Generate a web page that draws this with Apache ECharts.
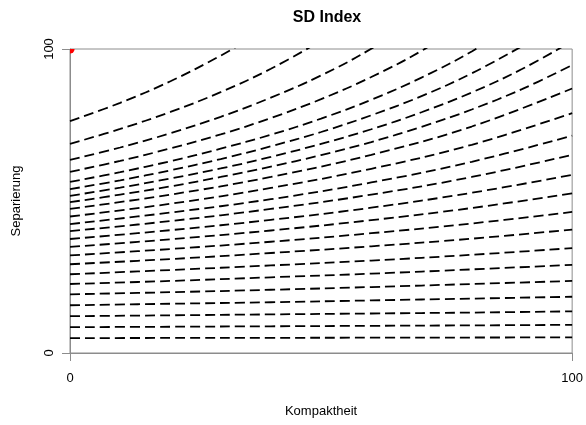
<!DOCTYPE html>
<html>
<head>
<meta charset="utf-8">
<title>SD Index</title>
<script src="https://cdn.jsdelivr.net/npm/echarts@6/dist/echarts.min.js"></script>
<style>
  html, body { margin: 0; padding: 0; background: #fff; }
  #chart { width: 586px; height: 425px; }
</style>
</head>
<body>
<div id="chart"></div>
<script>
// Axis ticks
const axisTicks = [0, 100];

// Sample positions along Kompaktheit
const xFine = [0, 10, 20, 30, 40, 50, 60, 70, 80, 90, 100];
const xCoarse = [0, 20, 40, 60, 80, 100];
const xTop1 = [0, 10, 20, 30, 35];

// Contour lines of the SD index (Separierung values at each sample position)
const level01 = [76.3, 82.3, 89.4, 97.8, 102.6];
const level02 = [68.8, 73.7, 79.3, 85.8, 93.5, 102.7];
const level03 = [63.5, 67.6, 72.3, 77.7, 84.0, 91.3, 100.1, 110.8];
const level04 = [59.6, 63.2, 67.3, 71.9, 77.3, 83.5, 90.8, 99.4, 109.9];
const level05 = [56.3, 59.5, 63.1, 67.2, 71.8, 77.1, 83.3, 90.6, 99.2, 109.6];
const level06 = [53.9, 56.8, 60.1, 63.8, 68.0, 72.7, 78.2, 84.5, 92.0, 100.9];
const level07 = [51.7, 54.4, 57.4, 60.7, 64.5, 68.8, 73.6, 79.2, 85.7, 93.4, 102.6];
const level08 = [49.6, 52.1, 54.8, 57.9, 61.3, 65.1, 69.4, 74.4, 80.1, 86.8, 94.7];
const level09 = [47.4, 52.1, 57.9, 65.2, 74.5, 87.0];
const level10 = [44.9, 49.1, 54.3, 60.6, 68.5, 78.9];
const level11 = [42.4, 46.2, 50.6, 56.1, 62.9, 71.5];
const level12 = [40.1, 43.4, 47.4, 52.1, 57.9, 65.2];
const level13 = [37.5, 40.4, 43.8, 47.8, 52.7, 58.6];
const level14 = [34.9, 37.4, 40.3, 43.7, 47.7, 52.5];
const level15 = [32.1, 34.2, 36.6, 39.4, 42.6, 46.4];
const level16 = [29.2, 30.9, 32.9, 35.1, 37.6, 40.6];
const level17 = [25.9, 27.3, 28.8, 30.4, 32.3, 34.5];
const level18 = [22.7, 23.7, 24.9, 26.1, 27.5, 29.0];
const level19 = [19.3, 20.0, 20.8, 21.7, 22.7, 23.7];
const level20 = [15.7, 16.2, 16.7, 17.3, 17.9, 18.5];
const level21 = [12.1, 12.4, 12.7, 13.0, 13.3, 13.7];
const level22 = [8.5, 8.64, 8.79, 8.94, 9.09, 9.26];
const level23 = [4.9, 4.95, 4.99, 5.04, 5.09, 5.14];

// Optimum marker
const optimum = [[0, 100]];

const contourLines = [
  [xTop1, level01], [xFine, level02], [xFine, level03], [xFine, level04],
  [xFine, level05], [xFine, level06], [xFine, level07], [xFine, level08],
  [xCoarse, level09], [xCoarse, level10], [xCoarse, level11], [xCoarse, level12],
  [xCoarse, level13], [xCoarse, level14], [xCoarse, level15], [xCoarse, level16],
  [xCoarse, level17], [xCoarse, level18], [xCoarse, level19], [xCoarse, level20],
  [xCoarse, level21], [xCoarse, level22], [xCoarse, level23]
];

const AXIS_GREY = '#8c8c8c';
const FONT = 'Liberation Sans, Arial, sans-serif';

const series = contourLines.map(([xs, ys]) => ({
  type: 'line',
  data: ys.map((y, i) => [xs[i], y]),
  showSymbol: false,
  smooth: 0.4,
  clip: true,
  silent: true,
  lineStyle: { color: '#000', width: 1.8, type: [10, 5] }
}));

series.push({
  type: 'custom',
  clip: true,
  silent: true,
  data: optimum,
  renderItem: (params, api) => {
    const p = api.coord([api.value(0), api.value(1)]);
    return { type: 'circle', shape: { cx: p[0], cy: p[1], r: 4.6 }, style: { fill: '#ff0000' } };
  }
});

const chart = echarts.init(document.getElementById('chart'), null, { renderer: 'canvas' });
chart.setOption({
  animation: false,
  title: {
    text: 'SD Index',
    left: 322,
    top: 5,
    textAlign: 'center',
    textStyle: { fontFamily: FONT, fontSize: 16, fontWeight: 'bold', color: '#000' }
  },
  grid: {
    left: 70, right: 12, top: 49, bottom: 72,
    show: true, borderColor: AXIS_GREY, borderWidth: 1, backgroundColor: 'transparent'
  },
  xAxis: {
    type: 'value', min: axisTicks[0], max: axisTicks[1], interval: axisTicks[1] - axisTicks[0],
    name: 'Kompaktheit', nameLocation: 'middle', nameGap: 52,
    nameTextStyle: { fontFamily: FONT, fontSize: 13, color: '#000' },
    axisLine: { show: true, lineStyle: { color: AXIS_GREY, width: 1 } },
    axisTick: { show: true, length: 8, lineStyle: { color: AXIS_GREY, width: 1 } },
    axisLabel: { margin: 19, fontFamily: FONT, fontSize: 13, color: '#000' },
    splitLine: { show: false }
  },
  yAxis: {
    type: 'value', min: axisTicks[0], max: axisTicks[1], interval: axisTicks[1] - axisTicks[0],
    name: 'Separierung', nameLocation: 'middle', nameGap: 47,
    nameTextStyle: { fontFamily: FONT, fontSize: 13, color: '#000' },
    axisLine: { show: true, lineStyle: { color: AXIS_GREY, width: 1 } },
    axisTick: { show: true, length: 8, lineStyle: { color: AXIS_GREY, width: 1 } },
    axisLabel: { rotate: 90, margin: 14, fontFamily: FONT, fontSize: 13, color: '#000' },
    splitLine: { show: false }
  },
  series: series
});
</script>
</body>
</html>
